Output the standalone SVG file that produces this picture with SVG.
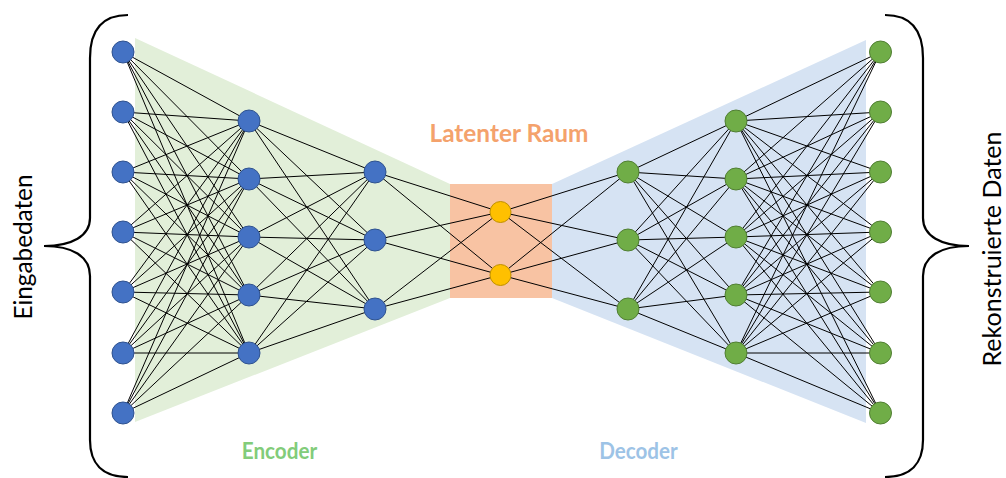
<svg xmlns="http://www.w3.org/2000/svg" width="1006" height="478" viewBox="0 0 1006 478">
<style>
.bg-enc{fill:#E2EFD9}
.bg-dec{fill:#D6E3F3}
.bg-lat{fill:#F8C3A3}
.c line{stroke:#000;stroke-width:1}
.nb{fill:#4472C4;stroke:#2F528F;stroke-width:1}
.ny{fill:#FFC000;stroke:#BF9000;stroke-width:1}
.ng{fill:#70AD47;stroke:#507E32;stroke-width:1}
.brace{fill:none;stroke:#000;stroke-width:2.2}
.lbl{font-family:Lato,"Open Sans",sans-serif;font-weight:bold;text-anchor:middle}
.side{font-family:Lato,"Open Sans",sans-serif;font-size:24.5px;text-anchor:middle;fill:#000}
</style>
<g id="backgrounds">
<polygon class="bg-enc" points="135,38 450,184 450,298 135,422"/>
<polygon class="bg-dec" points="552,184 866,40 866,423 552,298"/>
<rect class="bg-lat" x="450" y="184" width="102" height="114"/>
</g>
<g id="connectors" class="c">
<line x1="123" y1="52" x2="249" y2="121"/><line x1="123" y1="52" x2="249" y2="179"/><line x1="123" y1="52" x2="249" y2="237"/><line x1="123" y1="52" x2="249" y2="295"/><line x1="123" y1="52" x2="249" y2="353"/>
<line x1="123" y1="112" x2="249" y2="121"/><line x1="123" y1="112" x2="249" y2="179"/><line x1="123" y1="112" x2="249" y2="237"/><line x1="123" y1="112" x2="249" y2="295"/><line x1="123" y1="112" x2="249" y2="353"/>
<line x1="123" y1="172" x2="249" y2="121"/><line x1="123" y1="172" x2="249" y2="179"/><line x1="123" y1="172" x2="249" y2="237"/><line x1="123" y1="172" x2="249" y2="295"/><line x1="123" y1="172" x2="249" y2="353"/>
<line x1="123" y1="232" x2="249" y2="121"/><line x1="123" y1="232" x2="249" y2="179"/><line x1="123" y1="232" x2="249" y2="237"/><line x1="123" y1="232" x2="249" y2="295"/><line x1="123" y1="232" x2="249" y2="353"/>
<line x1="123" y1="292" x2="249" y2="121"/><line x1="123" y1="292" x2="249" y2="179"/><line x1="123" y1="292" x2="249" y2="237"/><line x1="123" y1="292" x2="249" y2="295"/><line x1="123" y1="292" x2="249" y2="353"/>
<line x1="123" y1="353" x2="249" y2="121"/><line x1="123" y1="353" x2="249" y2="179"/><line x1="123" y1="353" x2="249" y2="237"/><line x1="123" y1="353" x2="249" y2="295"/><line x1="123" y1="353" x2="249" y2="353"/>
<line x1="123" y1="413" x2="249" y2="121"/><line x1="123" y1="413" x2="249" y2="179"/><line x1="123" y1="413" x2="249" y2="237"/><line x1="123" y1="413" x2="249" y2="295"/><line x1="123" y1="413" x2="249" y2="353"/>
<line x1="249" y1="121" x2="375" y2="172"/><line x1="249" y1="121" x2="375" y2="240"/><line x1="249" y1="121" x2="375" y2="309"/>
<line x1="249" y1="179" x2="375" y2="172"/><line x1="249" y1="179" x2="375" y2="240"/><line x1="249" y1="179" x2="375" y2="309"/>
<line x1="249" y1="237" x2="375" y2="172"/><line x1="249" y1="237" x2="375" y2="240"/><line x1="249" y1="237" x2="375" y2="309"/>
<line x1="249" y1="295" x2="375" y2="172"/><line x1="249" y1="295" x2="375" y2="240"/><line x1="249" y1="295" x2="375" y2="309"/>
<line x1="249" y1="353" x2="375" y2="172"/><line x1="249" y1="353" x2="375" y2="240"/><line x1="249" y1="353" x2="375" y2="309"/>
<line x1="375" y1="172" x2="500.5" y2="212"/><line x1="375" y1="172" x2="500.5" y2="275"/>
<line x1="375" y1="240" x2="500.5" y2="212"/><line x1="375" y1="240" x2="500.5" y2="275"/>
<line x1="375" y1="309" x2="500.5" y2="212"/><line x1="375" y1="309" x2="500.5" y2="275"/>
<line x1="500.5" y1="212" x2="628" y2="172"/><line x1="500.5" y1="212" x2="628" y2="240"/><line x1="500.5" y1="212" x2="628" y2="309"/>
<line x1="500.5" y1="275" x2="628" y2="172"/><line x1="500.5" y1="275" x2="628" y2="240"/><line x1="500.5" y1="275" x2="628" y2="309"/>
<line x1="628" y1="172" x2="736" y2="121"/><line x1="628" y1="172" x2="736" y2="179"/><line x1="628" y1="172" x2="736" y2="237"/><line x1="628" y1="172" x2="736" y2="295"/><line x1="628" y1="172" x2="736" y2="353"/>
<line x1="628" y1="240" x2="736" y2="121"/><line x1="628" y1="240" x2="736" y2="179"/><line x1="628" y1="240" x2="736" y2="237"/><line x1="628" y1="240" x2="736" y2="295"/><line x1="628" y1="240" x2="736" y2="353"/>
<line x1="628" y1="309" x2="736" y2="121"/><line x1="628" y1="309" x2="736" y2="179"/><line x1="628" y1="309" x2="736" y2="237"/><line x1="628" y1="309" x2="736" y2="295"/><line x1="628" y1="309" x2="736" y2="353"/>
<line x1="736" y1="121" x2="880.5" y2="52"/><line x1="736" y1="121" x2="880.5" y2="112"/><line x1="736" y1="121" x2="880.5" y2="172"/><line x1="736" y1="121" x2="880.5" y2="232"/><line x1="736" y1="121" x2="880.5" y2="292"/><line x1="736" y1="121" x2="880.5" y2="353"/><line x1="736" y1="121" x2="880.5" y2="413"/>
<line x1="736" y1="179" x2="880.5" y2="52"/><line x1="736" y1="179" x2="880.5" y2="112"/><line x1="736" y1="179" x2="880.5" y2="172"/><line x1="736" y1="179" x2="880.5" y2="232"/><line x1="736" y1="179" x2="880.5" y2="292"/><line x1="736" y1="179" x2="880.5" y2="353"/><line x1="736" y1="179" x2="880.5" y2="413"/>
<line x1="736" y1="237" x2="880.5" y2="52"/><line x1="736" y1="237" x2="880.5" y2="112"/><line x1="736" y1="237" x2="880.5" y2="172"/><line x1="736" y1="237" x2="880.5" y2="232"/><line x1="736" y1="237" x2="880.5" y2="292"/><line x1="736" y1="237" x2="880.5" y2="353"/><line x1="736" y1="237" x2="880.5" y2="413"/>
<line x1="736" y1="295" x2="880.5" y2="52"/><line x1="736" y1="295" x2="880.5" y2="112"/><line x1="736" y1="295" x2="880.5" y2="172"/><line x1="736" y1="295" x2="880.5" y2="232"/><line x1="736" y1="295" x2="880.5" y2="292"/><line x1="736" y1="295" x2="880.5" y2="353"/><line x1="736" y1="295" x2="880.5" y2="413"/>
<line x1="736" y1="353" x2="880.5" y2="52"/><line x1="736" y1="353" x2="880.5" y2="112"/><line x1="736" y1="353" x2="880.5" y2="172"/><line x1="736" y1="353" x2="880.5" y2="232"/><line x1="736" y1="353" x2="880.5" y2="292"/><line x1="736" y1="353" x2="880.5" y2="353"/><line x1="736" y1="353" x2="880.5" y2="413"/>
</g>
<g id="input-layer">
<circle class="nb" cx="123" cy="52" r="11"/><circle class="nb" cx="123" cy="112" r="11"/><circle class="nb" cx="123" cy="172" r="11"/><circle class="nb" cx="123" cy="232" r="11"/><circle class="nb" cx="123" cy="292" r="11"/><circle class="nb" cx="123" cy="353" r="11"/><circle class="nb" cx="123" cy="413" r="11"/>
</g>
<g id="encoder-hidden-1">
<circle class="nb" cx="249" cy="121" r="11"/><circle class="nb" cx="249" cy="179" r="11"/><circle class="nb" cx="249" cy="237" r="11"/><circle class="nb" cx="249" cy="295" r="11"/><circle class="nb" cx="249" cy="353" r="11"/>
</g>
<g id="encoder-hidden-2">
<circle class="nb" cx="375" cy="172" r="11"/><circle class="nb" cx="375" cy="240" r="11"/><circle class="nb" cx="375" cy="309" r="11"/>
</g>
<g id="latent-layer">
<circle class="ny" cx="500.5" cy="212" r="10.5"/><circle class="ny" cx="500.5" cy="275" r="10.5"/>
</g>
<g id="decoder-hidden-1">
<circle class="ng" cx="628" cy="172" r="11"/><circle class="ng" cx="628" cy="240" r="11"/><circle class="ng" cx="628" cy="309" r="11"/>
</g>
<g id="decoder-hidden-2">
<circle class="ng" cx="736" cy="121" r="11"/><circle class="ng" cx="736" cy="179" r="11"/><circle class="ng" cx="736" cy="237" r="11"/><circle class="ng" cx="736" cy="295" r="11"/><circle class="ng" cx="736" cy="353" r="11"/>
</g>
<g id="output-layer">
<circle class="ng" cx="880.5" cy="52" r="11"/><circle class="ng" cx="880.5" cy="112" r="11"/><circle class="ng" cx="880.5" cy="172" r="11"/><circle class="ng" cx="880.5" cy="232" r="11"/><circle class="ng" cx="880.5" cy="292" r="11"/><circle class="ng" cx="880.5" cy="353" r="11"/><circle class="ng" cx="880.5" cy="413" r="11"/>
</g>
<g id="brace-left">
<path class="brace" d="M128,15 C102,15 90,30 90,58 L90,218 C90,236 72,246 44,246 C72,246 90,256 90,276 L90,440 C90,463 102,477 128,477"/>
</g>
<g id="brace-right">
<path class="brace" d="M885,15 C911,15 923,30 923,58 L923,218 C923,236 941,246 969,246 C941,246 923,256 923,276 L923,440 C923,463 911,477 885,477"/>
</g>
<g id="labels">
<text class="lbl" x="509" y="141.5" font-size="24" fill="#F4A26C" textLength="159" lengthAdjust="spacingAndGlyphs">Latenter Raum</text>
<text class="lbl" x="279.5" y="459" font-size="22.5" fill="#82CC7A" textLength="75.5" lengthAdjust="spacingAndGlyphs">Encoder</text>
<text class="lbl" x="638.5" y="459" font-size="22.5" fill="#9DC3E6" textLength="78.5" lengthAdjust="spacingAndGlyphs">Decoder</text>
<text class="side" transform="translate(32,247) rotate(-90)" textLength="145" lengthAdjust="spacingAndGlyphs">Eingabedaten</text>
<text class="side" transform="translate(1001,249) rotate(-90)" textLength="235" lengthAdjust="spacingAndGlyphs">Rekonstruierte Daten</text>
</g>
</svg>
